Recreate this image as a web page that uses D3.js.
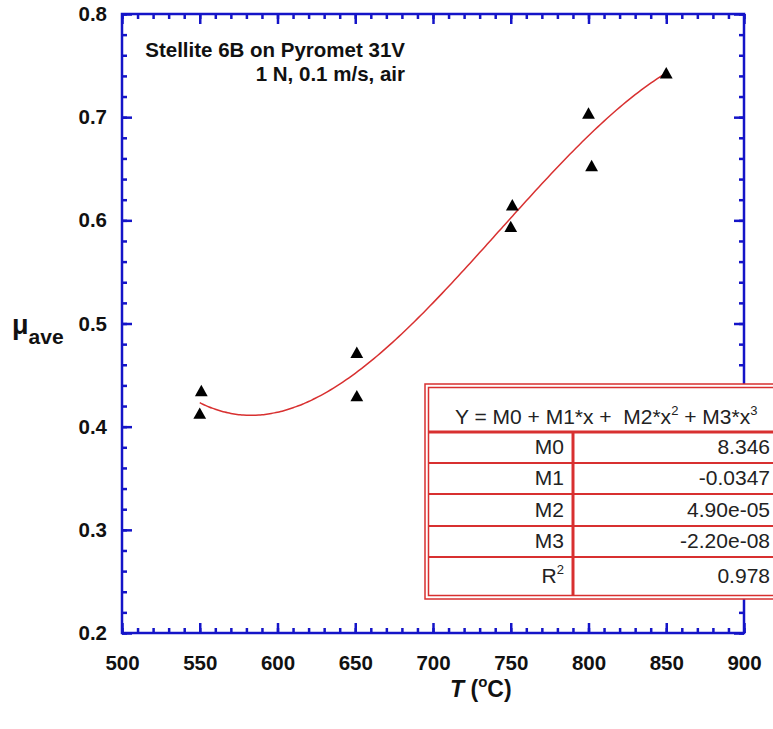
<!DOCTYPE html>
<html>
<head>
<meta charset="utf-8">
<script src="https://cdn.jsdelivr.net/npm/d3@7"></script>
<style>
  body { margin: 0; background: #fff; }
  text { font-family: "Liberation Sans", Arial, sans-serif; }
</style>
</head>
<body>
<svg id="chart" width="773" height="729"></svg>
<script>
// measured points, T in degC vs average friction coefficient
const tempC = [551, 550, 651, 651, 751, 750, 800, 802, 850];
const muAve = [0.435, 0.413, 0.472, 0.430, 0.615, 0.594, 0.704, 0.653, 0.743];

// cubic fit shown in the table
const fitCoef = [8.346, -0.0347, 4.90e-05, -2.20e-08];
const fitRange = [550, 850];
const coefNames = ['M0', 'M1', 'M2', 'M3', 'R'];
const coefText = ['8.346', '-0.0347', '4.90e-05', '-2.20e-08', '0.978'];

const xTicks = [500, 550, 600, 650, 700, 750, 800, 850, 900];
const yTicks = [0.2, 0.3, 0.4, 0.5, 0.6, 0.7, 0.8];

const axisBlue = '#1414c8';
const fitRed = '#d83030';

const svg = d3.select('#chart');

const x = d3.scaleLinear().domain([500, 900]).range([122, 744]);
const y = d3.scaleLinear().domain([0.2, 0.8]).range([633, 14]);

// major + minor ticks on all four sides, pointing inward
const minorX = d3.range(500, 901, 10);
const minorY = d3.range(0.2, 0.8001, 0.02);

function styleAxis(g) {
  g.select('.domain').remove();
  g.selectAll('line').attr('stroke', axisBlue).attr('stroke-width', 2.5);
  g.selectAll('text')
    .attr('fill', '#111')
    .style('font-size', '20.5px')
    .style('font-weight', 'bold')
    .style('font-family', '"Liberation Sans", Arial, sans-serif');
}

svg.append('g').attr('transform', 'translate(0,633)')
  .call(d3.axisBottom(x).tickValues(minorX).tickSize(-5).tickFormat(''))
  .call(styleAxis);
svg.append('g').attr('transform', 'translate(0,633)')
  .call(d3.axisBottom(x).tickValues(xTicks).tickSize(-10).tickPadding(22).tickFormat(d3.format('d')))
  .call(styleAxis);

svg.append('g').attr('transform', 'translate(0,14)')
  .call(d3.axisTop(x).tickValues(minorX).tickSize(-5).tickFormat(''))
  .call(styleAxis);
svg.append('g').attr('transform', 'translate(0,14)')
  .call(d3.axisTop(x).tickValues(xTicks).tickSize(-10).tickFormat(''))
  .call(styleAxis);

svg.append('g').attr('transform', 'translate(122,0)')
  .call(d3.axisLeft(y).tickValues(minorY).tickSize(-5).tickFormat(''))
  .call(styleAxis);
svg.append('g').attr('transform', 'translate(122,0)')
  .call(d3.axisLeft(y).tickValues(yTicks).tickSize(-10).tickPadding(15).tickFormat(d3.format('.1f')))
  .call(styleAxis);

svg.append('g').attr('transform', 'translate(744,0)')
  .call(d3.axisRight(y).tickValues(minorY).tickSize(-5).tickFormat(''))
  .call(styleAxis);
svg.append('g').attr('transform', 'translate(744,0)')
  .call(d3.axisRight(y).tickValues(yTicks).tickSize(-10).tickFormat(''))
  .call(styleAxis);

svg.append('rect')
  .attr('x', x(500)).attr('y', y(0.8))
  .attr('width', x(900) - x(500)).attr('height', y(0.2) - y(0.8))
  .attr('fill', 'none').attr('stroke', axisBlue).attr('stroke-width', 2.5);

// fit curve
const fitX = d3.range(fitRange[0], fitRange[1] + 0.1, 2);
const fitLine = d3.line()
  .x(d => x(d))
  .y(d => y(fitCoef[0] + fitCoef[1] * d + fitCoef[2] * d * d + fitCoef[3] * d * d * d))
  .curve(d3.curveMonotoneX);
svg.append('path')
  .datum(fitX)
  .attr('d', fitLine)
  .attr('fill', 'none')
  .attr('stroke', fitRed)
  .attr('stroke-width', 1.5);

// triangles
const tri = (cx, cy) => `M${cx},${cy - 5.8}L${cx + 6.4},${cy + 5.6}L${cx - 6.4},${cy + 5.6}Z`;
svg.append('g').selectAll('path')
  .data(tempC)
  .enter()
  .append('path')
  .attr('d', (d, i) => tri(x(d), y(muAve[i])))
  .attr('fill', '#000');

// annotation
svg.append('text')
  .attr('x', 405).attr('y', 57)
  .attr('text-anchor', 'end')
  .style('font-size', '20.5px').style('font-weight', 'bold').attr('fill', '#111')
  .text('Stellite 6B on Pyromet 31V');
svg.append('text')
  .attr('x', 405).attr('y', 81)
  .attr('text-anchor', 'end')
  .style('font-size', '20.5px').style('font-weight', 'bold').attr('fill', '#111')
  .text('1 N, 0.1 m/s, air');

// axis titles
const yl = svg.append('text')
  .attr('x', 12).attr('y', 334)
  .style('font-weight', 'bold').attr('fill', '#111');
yl.append('tspan').style('font-size', '27px').text('μ');
yl.append('tspan').attr('dy', 10).style('font-size', '21px').text('ave');

const xl = svg.append('text')
  .attr('x', 450).attr('y', 697)
  .style('font-size', '23px').style('font-weight', 'bold').attr('fill', '#111');
xl.append('tspan').style('font-style', 'italic').text('T');
xl.append('tspan').text(' (');
xl.append('tspan').attr('dy', -10).style('font-size', '15px').text('o');
xl.append('tspan').attr('dy', 10).text('C)');

// fit table
const tbl = svg.append('g');
const tblLeft = 425, tblTop = 384, tblRight = 800, tblBottom = 599;
tbl.append('rect')
  .attr('x', tblLeft).attr('y', tblTop)
  .attr('width', tblRight - tblLeft).attr('height', tblBottom - tblTop)
  .attr('fill', '#fff').attr('stroke', fitRed).attr('stroke-width', 1.5);
tbl.append('rect')
  .attr('x', tblLeft + 3.5).attr('y', tblTop + 3.5)
  .attr('width', tblRight - tblLeft).attr('height', tblBottom - tblTop - 7)
  .attr('fill', 'none').attr('stroke', fitRed).attr('stroke-width', 1.5);

const headBottom = 432;
const rowBottoms = [463, 494, 526, 557, 595.5];
const colX = 573;

tbl.append('line')
  .attr('x1', tblLeft + 3.5).attr('x2', tblRight)
  .attr('y1', headBottom).attr('y2', headBottom)
  .attr('stroke', fitRed).attr('stroke-width', 3);
tbl.selectAll('.rowline')
  .data(rowBottoms.slice(0, -1))
  .enter()
  .append('line')
  .attr('x1', tblLeft + 3.5).attr('x2', tblRight)
  .attr('y1', d => d).attr('y2', d => d)
  .attr('stroke', fitRed).attr('stroke-width', 2);
tbl.append('line')
  .attr('x1', colX).attr('x2', colX)
  .attr('y1', headBottom).attr('y2', tblBottom - 3.5)
  .attr('stroke', fitRed).attr('stroke-width', 3);

const head = tbl.append('text')
  .attr('x', 455).attr('y', 424)
  .style('font-size', '21px').style('white-space', 'pre').attr('fill', '#222');
head.append('tspan').text('Y = M0 + M1*x +  M2*x');
head.append('tspan').attr('dy', -9).style('font-size', '13px').text('2');
head.append('tspan').attr('dy', 9).text(' + M3*x');
head.append('tspan').attr('dy', -9).style('font-size', '13px').text('3');

const baseOff = [9, 9, 9, 9, 13];
coefNames.forEach((name, i) => {
  const by = rowBottoms[i] - baseOff[i];
  const t = tbl.append('text')
    .attr('x', 564).attr('y', by)
    .attr('text-anchor', 'end')
    .style('font-size', '21px').attr('fill', '#222');
  t.append('tspan').text(name);
  if (name === 'R') {
    t.append('tspan').attr('dy', -9).style('font-size', '13px').text('2');
  }
  tbl.append('text')
    .attr('x', 770).attr('y', by)
    .attr('text-anchor', 'end')
    .style('font-size', '21px').attr('fill', '#222')
    .text(coefText[i]);
});
</script>
</body>
</html>
